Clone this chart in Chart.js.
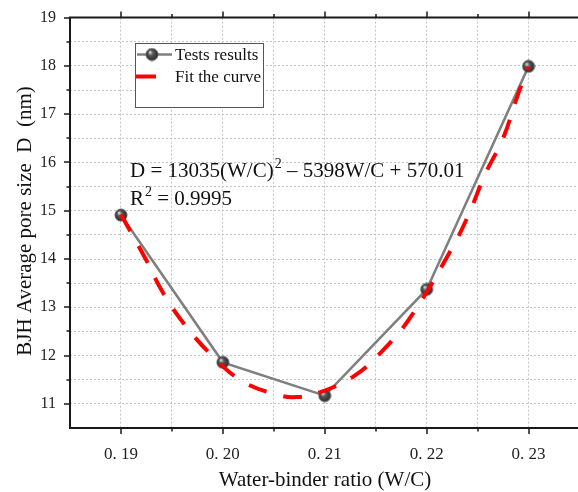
<!DOCTYPE html>
<html><head><meta charset="utf-8">
<script src="https://cdn.jsdelivr.net/npm/chart.js@4/dist/chart.umd.min.js"></script>
<style>
html,body{margin:0;padding:0;overflow:hidden;background:#fff;width:578px;height:492px}
#wrap{position:absolute;left:0;top:-6px;width:600px;height:498px}
</style>
</head><body><div id="wrap"><canvas id="c" width="600" height="498"></canvas></div>
<script>
// ---- data ----
const ratios = [0.19, 0.20, 0.21, 0.22, 0.23];
const ratioLabels = ['0. 19', '0. 20', '0. 21', '0. 22', '0. 23'];
const poreSize = [14.91, 11.86, 11.17, 13.37, 17.99];
// fit curve
const fitX = [0.190, 0.1924, 0.1941, 0.1963, 0.1988, 0.2019, 0.2055, 0.2072, 0.2093, 0.2129, 0.2158, 0.2184, 0.2225, 0.2242, 0.2257, 0.2275, 0.2289, 0.230];
const fitY = [14.92, 14.01, 13.31, 12.63, 12.03, 11.47, 11.18, 11.14, 11.22, 11.58, 12.13, 12.79, 14.23, 14.96, 15.74, 16.50, 17.37, 17.98];
const yTickLabels = ['11', '12', '13', '14', '15', '16', '17', '18', '19'];
const seriesNames = ['Tests results', 'Fit the curve'];
const eqLine1a = 'D = 13035(W/C)';
const eqSup = '2';
const eqLine1b = ' \u2013 5398W/C + 570.01';
const eqLine2a = 'R';
const eqLine2b = ' = 0.9995';
const xTitle = 'Water-binder ratio (W/C)';
const yTitle = 'BJH Average pore size  D  (nm)';

const SERIF = '"Liberation Serif", "Times New Roman", serif';
const OFF = 6; // canvas is shifted up by this many pixels

// sphere marker
function makeSphere(r) {
  const s = r * 2 + 2;
  const cv = document.createElement('canvas');
  cv.width = s; cv.height = s;
  const g = cv.getContext('2d');
  const c = s / 2;
  const grad = g.createRadialGradient(c - r * 0.35, c - r * 0.4, 0.5, c, c, r);
  grad.addColorStop(0, '#d8d8d8');
  grad.addColorStop(0.35, '#5a5a5a');
  grad.addColorStop(1, '#2a2a2a');
  g.beginPath(); g.arc(c, c, r, 0, Math.PI * 2);
  g.fillStyle = grad; g.fill();
  g.lineWidth = 1; g.strokeStyle = '#555'; g.stroke();
  return cv;
}
const sphere = makeSphere(6);

const decor = {
  id: 'decor',
  afterDraw(chart) {
    const ctx = chart.ctx;
    const xs = chart.scales.x, ys = chart.scales.y;
    const a = chart.chartArea;
    ctx.save();
    // axes lines
    ctx.strokeStyle = '#1a1a1a';
    ctx.lineWidth = 2;
    ctx.beginPath();
    ctx.moveTo(a.left, a.top); ctx.lineTo(a.left, a.bottom + 1);
    ctx.moveTo(a.left - 1, a.bottom); ctx.lineTo(a.right + 5, a.bottom);
    ctx.moveTo(a.left - 1, a.top); ctx.lineTo(a.right + 5, a.top);
    ctx.stroke();
    // ticks
    ctx.lineWidth = 1.5;
    ctx.beginPath();
    for (let v = 11; v <= 19.001; v += 0.5) {
      const y = Math.round(ys.getPixelForValue(v));
      const len = Math.abs(v - Math.round(v)) < 1e-6 ? 6 : 3.5;
      ctx.moveTo(a.left, y); ctx.lineTo(a.left - len, y);
    }
    for (let k = 0; k <= 10; k++) {
      const v = 0.185 + k * 0.005;
      const x = Math.round(xs.getPixelForValue(v));
      const major = k % 2 === 1;
      const len = major ? 6 : 3.5;
      if (k === 0) continue;
      ctx.moveTo(x, a.bottom); ctx.lineTo(x, a.bottom + len);
      ctx.moveTo(x, a.top); ctx.lineTo(x, a.top - len);
    }
    ctx.stroke();

    ctx.translate(0, OFF);
    // axis titles
    ctx.fillStyle = '#111';
    ctx.font = '21px ' + SERIF;
    ctx.textAlign = 'center';
    ctx.textBaseline = 'alphabetic';
    ctx.fillText(xTitle, 325, 486);
    ctx.save();
    ctx.translate(31, 221);
    ctx.rotate(-Math.PI / 2);
    ctx.fillText(yTitle, 0, 0);
    ctx.restore();

    // equation
    ctx.textAlign = 'left';
    ctx.font = '21px ' + SERIF;
    let x0 = 130;
    ctx.fillText(eqLine1a, x0, 177);
    let w = ctx.measureText(eqLine1a).width;
    ctx.font = '14px ' + SERIF;
    ctx.fillText(eqSup, x0 + w + 1, 168);
    const ws = ctx.measureText(eqSup).width;
    ctx.font = '21px ' + SERIF;
    ctx.fillText(eqLine1b, x0 + w + ws + 1, 177);
    ctx.fillText(eqLine2a, x0, 205);
    w = ctx.measureText(eqLine2a).width;
    ctx.font = '14px ' + SERIF;
    ctx.fillText(eqSup, x0 + w + 1, 196);
    ctx.font = '21px ' + SERIF;
    ctx.fillText(eqLine2b, x0 + w + ws + 1, 205);

    // legend
    ctx.fillStyle = '#fff';
    ctx.fillRect(135, 43.5, 128, 64);
    ctx.strokeStyle = '#555';
    ctx.lineWidth = 1;
    ctx.strokeRect(135.5, 43.5, 128, 64);
    ctx.strokeStyle = '#7f7f7f';
    ctx.lineWidth = 2.5;
    ctx.beginPath(); ctx.moveTo(137, 54.5); ctx.lineTo(172, 54.5); ctx.stroke();
    ctx.drawImage(sphere, 152 - sphere.width / 2, 54.5 - sphere.height / 2);
    ctx.strokeStyle = '#ff0000';
    ctx.lineWidth = 4;
    ctx.beginPath(); ctx.moveTo(136, 76.5); ctx.lineTo(156, 76.5); ctx.stroke();
    ctx.fillStyle = '#111';
    ctx.font = '17px ' + SERIF;
    ctx.fillText(seriesNames[0], 175, 60);
    ctx.fillText(seriesNames[1], 175, 82);
    ctx.restore();
  }
};

const chart = new Chart(document.getElementById('c'), {
  type: 'scatter',
  data: {
    datasets: [
      {
        label: seriesNames[1],
        data: fitX.map((x, i) => ({ x, y: fitY[i] })),
        showLine: true,
        borderColor: '#ff0000',
        borderWidth: 4,
        borderDash: [19, 17],
        borderCapStyle: 'butt',
        tension: 0.4,
        pointRadius: 0,
        order: 0
      },
      {
        label: seriesNames[0],
        data: ratios.map((x, i) => ({ x, y: poreSize[i] })),
        showLine: true,
        borderColor: '#7f7f7f',
        borderWidth: 2.5,
        tension: 0,
        pointStyle: sphere,
        pointRadius: 6,
        order: 1
      }
    ]
  },
  options: {
    responsive: false,
    animation: false,
    events: [],
    layout: { padding: { left: 0, top: 10, right: 20.5, bottom: 0 } },
    plugins: { legend: { display: false }, tooltip: { enabled: false } },
    scales: {
      x: {
        type: 'linear',
        min: 0.185, max: 0.235,
        afterFit(s) { s.height = 64; },
        afterBuildTicks(s) {
          s.ticks = [];
          for (let k = 0; k <= 10; k++) s.ticks.push({ value: +(0.185 + k * 0.005).toFixed(3) });
        },
        grid: { color: '#c4c4c4', lineWidth: 1, drawTicks: false },
        border: { display: false, dash: [2, 2] },
        ticks: {
          padding: 16,
          autoSkip: false,
          maxRotation: 0,
          color: '#222',
          font: { family: SERIF, size: 17 },
          callback(v) {
            const i = ratios.findIndex(r => Math.abs(r - v) < 1e-6);
            return i >= 0 ? ratioLabels[i] : '';
          }
        }
      },
      y: {
        min: 10.5, max: 19,
        afterFit(s) { s.width = 70; },
        afterBuildTicks(s) {
          s.ticks = [];
          for (let k = 0; k <= 17; k++) s.ticks.push({ value: 10.5 + k * 0.5 });
        },
        grid: { color: '#c4c4c4', lineWidth: 1, drawTicks: false },
        border: { display: false, dash: [2, 2] },
        ticks: {
          padding: 14,
          color: '#222',
          font: { family: SERIF, size: 16 },
          callback(v) {
            const i = yTickLabels.indexOf(String(v));
            return i >= 0 ? yTickLabels[i] : '';
          }
        }
      }
    }
  },
  plugins: [decor]
});
</script>
</body></html>
